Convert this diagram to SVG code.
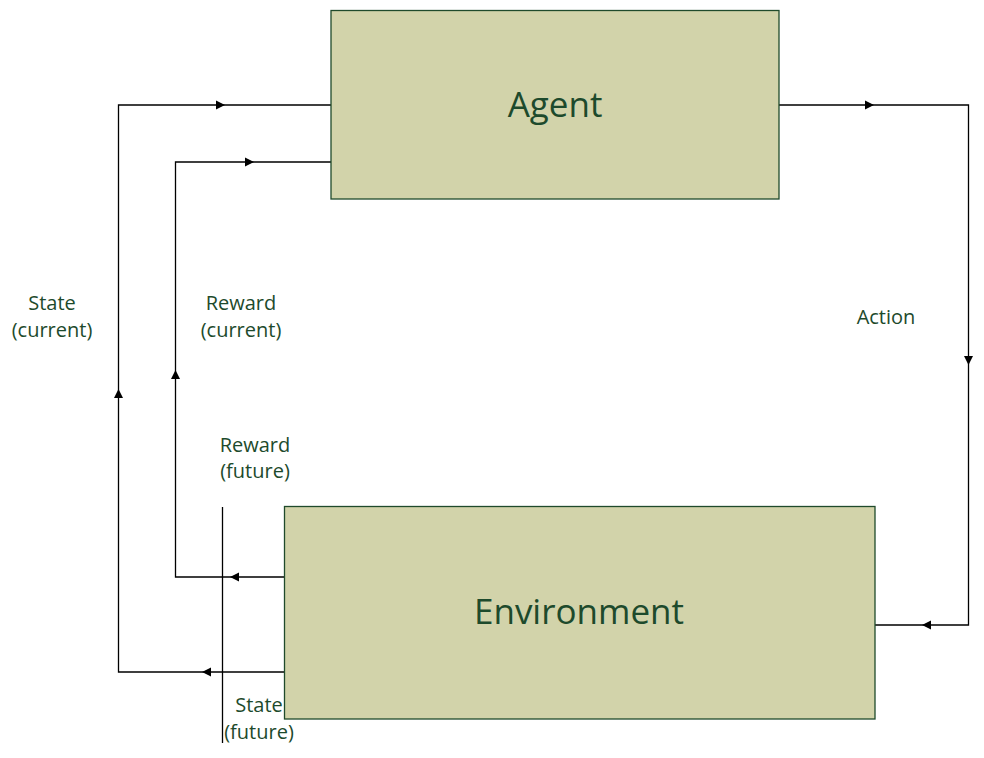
<svg xmlns="http://www.w3.org/2000/svg" width="984" height="758" viewBox="0 0 984 758">
<style>
.box{fill:#d2d3aa;stroke:#1f4a2b;stroke-width:1.3}
.title{font-family:"Open Sans","Noto Sans",sans-serif;font-size:35px;fill:#1d4a2c;text-anchor:middle}
.lbl{font-family:"Open Sans","Noto Sans",sans-serif;font-size:20px;fill:#1d4a2c;text-anchor:middle}
.wire{fill:none;stroke:#000;stroke-width:1.3}
.ah{fill:#000}
</style>
<defs>
<path id="arr" d="M0,0 L-9,-4.5 L-9,4.5 Z"/>
</defs>
<rect width="984" height="758" fill="#fff"/>
<g id="connectors">
<path class="wire" d="M284,672 H118.5 V105 H331"/>
<path class="wire" d="M284,577 H175.5 V162 H331"/>
<path class="wire" d="M779,105 H968.5 V625 H875"/>
<path class="wire" d="M222.5,507 V743"/>
<use class="ah" href="#arr" transform="translate(225,105)"/>
<use class="ah" href="#arr" transform="translate(254,162)"/>
<use class="ah" href="#arr" transform="translate(202,672) rotate(180)"/>
<use class="ah" href="#arr" transform="translate(230,577) rotate(180)"/>
<use class="ah" href="#arr" transform="translate(118.5,389) rotate(-90)"/>
<use class="ah" href="#arr" transform="translate(175.5,370) rotate(-90)"/>
<use class="ah" href="#arr" transform="translate(874,105)"/>
<use class="ah" href="#arr" transform="translate(968.5,365) rotate(90)"/>
<use class="ah" href="#arr" transform="translate(922,625) rotate(180)"/>
</g>
<g id="agent">
<rect class="box" x="331" y="10.5" width="448" height="188.5"/>
<text class="title" x="555" y="117">Agent</text>
</g>
<g id="environment">
<rect class="box" x="284.5" y="506.5" width="590.5" height="212.5"/>
<text class="title" x="579" y="624">Environment</text>
</g>
<g id="labels">
<text class="lbl" x="52" y="310">State</text>
<text class="lbl" x="52" y="337">(current)</text>
<text class="lbl" x="241" y="310">Reward</text>
<text class="lbl" x="241" y="337">(current)</text>
<text class="lbl" x="255" y="452">Reward</text>
<text class="lbl" x="255" y="478">(future)</text>
<text class="lbl" x="259" y="712">State</text>
<text class="lbl" x="259" y="739">(future)</text>
<text class="lbl" x="886" y="324">Action</text>
</g>
</svg>
